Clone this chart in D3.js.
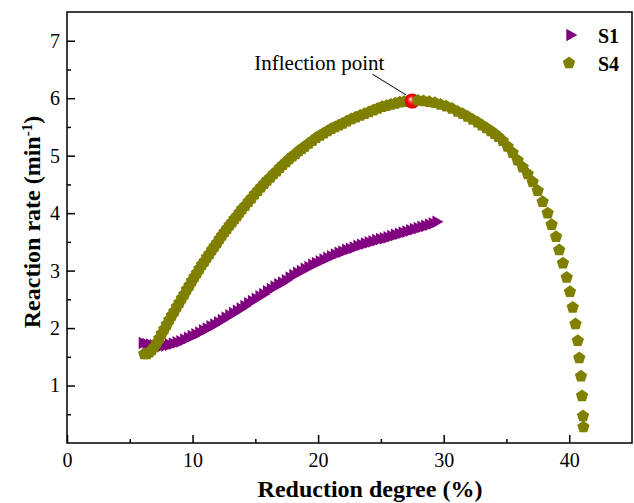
<!DOCTYPE html>
<html>
<head>
<meta charset="utf-8">
<script src="https://cdn.jsdelivr.net/npm/d3@7"></script>
<style>
  body { margin: 0; background: #fff; }
  text { font-family: "Liberation Serif", "Times New Roman", serif; fill: #000; }
  .tick text { font-size: 20px; }
  .title { font-size: 24px; font-weight: bold; }
  .legend { font-size: 20px; font-weight: bold; }
</style>
</head>
<body>
<div class="viz"></div>
<script>
// S1 (right triangles)
const s1X = [6.0, 6.3, 6.6, 6.9, 7.2, 7.5, 7.8, 8.1, 8.4, 8.7, 9.0, 9.3, 9.6, 9.9, 10.2, 10.5, 10.8, 11.1, 11.4, 11.7,
  12.0, 12.3, 12.6, 12.9, 13.2, 13.5, 13.8, 14.1, 14.4, 14.7, 15.0, 15.3, 15.6, 15.9, 16.2, 16.5, 16.8, 17.1, 17.4, 17.7,
  18.0, 18.3, 18.6, 18.9, 19.2, 19.5, 19.8, 20.1, 20.4, 20.7, 21.0, 21.3, 21.6, 21.9, 22.2, 22.5, 22.8, 23.1, 23.4, 23.7,
  24.0, 24.3, 24.6, 24.9, 25.2, 25.5, 25.8, 26.1, 26.4, 26.7, 27.0, 27.3, 27.6, 27.9, 28.2, 28.5, 28.8, 29.1, 29.4]
const s1Y = [1.74, 1.72, 1.71, 1.70, 1.69, 1.69, 1.70, 1.71, 1.73, 1.75, 1.77, 1.80, 1.83, 1.86, 1.89, 1.92, 1.96, 1.99, 2.03, 2.06,
  2.10, 2.14, 2.18, 2.22, 2.26, 2.30, 2.34, 2.38, 2.43, 2.47, 2.51, 2.55, 2.59, 2.64, 2.68, 2.72, 2.76, 2.79, 2.83, 2.88,
  2.92, 2.96, 2.99, 3.03, 3.06, 3.10, 3.13, 3.16, 3.19, 3.22, 3.25, 3.28, 3.31, 3.33, 3.36, 3.38, 3.40, 3.43, 3.45, 3.47,
  3.49, 3.51, 3.53, 3.55, 3.56, 3.58, 3.60, 3.62, 3.64, 3.66, 3.68, 3.70, 3.72, 3.74, 3.76, 3.78, 3.80, 3.82, 3.85]

// S4 (pentagons)
const s4X = [6.15, 6.35, 6.55, 6.75, 6.95, 7.15, 7.35, 7.55, 7.75, 7.95, 8.15, 8.35, 8.55, 8.75, 8.95, 9.15, 9.35, 9.55, 9.75, 9.95,
  10.15, 10.35, 10.55, 10.75, 10.95, 11.15, 11.35, 11.55, 11.75, 11.95, 12.15, 12.35, 12.55, 12.75, 12.95, 13.15, 13.35, 13.55, 13.75, 13.95,
  14.2, 14.45, 14.7, 14.95, 15.2, 15.45, 15.7, 15.95, 16.2, 16.45, 16.7, 16.95, 17.2, 17.45, 17.7, 17.95, 18.2, 18.45, 18.7, 18.95,
  19.25, 19.55, 19.85, 20.15, 20.45, 20.75, 21.05, 21.35, 21.65, 21.95, 22.3, 22.65, 23.0, 23.35, 23.7, 24.05, 24.4, 24.75, 25.1, 25.45,
  25.8, 26.15, 26.5, 26.85, 27.2, 27.55, 27.95, 28.4, 28.85, 29.3, 29.75, 30.2, 30.65, 31.1, 31.5, 31.9, 32.3, 32.7, 33.05, 33.4,
  33.75, 34.05, 34.35, 34.7, 35.09, 35.49, 35.89, 36.29, 36.69, 37.09, 37.49, 37.88, 38.28, 38.6, 38.95, 39.2, 39.5, 39.8, 40.06, 40.28,
  40.5, 40.68, 40.8, 40.94, 41.02, 41.1, 41.13]
const s4Y = [1.55, 1.55, 1.58, 1.62, 1.67, 1.74, 1.82, 1.90, 1.98, 2.06, 2.14, 2.22, 2.29, 2.37, 2.44, 2.52, 2.59, 2.67, 2.74, 2.82,
  2.89, 2.96, 3.03, 3.10, 3.16, 3.23, 3.29, 3.36, 3.42, 3.48, 3.55, 3.61, 3.67, 3.73, 3.79, 3.84, 3.90, 3.95, 4.01, 4.07,
  4.13, 4.20, 4.26, 4.33, 4.39, 4.45, 4.51, 4.57, 4.62, 4.68, 4.73, 4.79, 4.84, 4.89, 4.94, 4.99, 5.03, 5.08, 5.12, 5.16,
  5.21, 5.26, 5.31, 5.35, 5.39, 5.43, 5.47, 5.50, 5.53, 5.56, 5.60, 5.64, 5.67, 5.70, 5.73, 5.76, 5.79, 5.82, 5.85, 5.87,
  5.89, 5.91, 5.93, 5.94, 5.95, 5.96, 5.96, 5.95, 5.94, 5.92, 5.89, 5.86, 5.82, 5.77, 5.73, 5.68, 5.63, 5.58, 5.53, 5.48,
  5.43, 5.38, 5.33, 5.26, 5.16, 5.05, 4.92, 4.80, 4.68, 4.54, 4.39, 4.20, 4.00, 3.80, 3.59, 3.36, 3.13, 2.88, 2.63, 2.36,
  2.07, 1.78, 1.48, 1.16, 0.82, 0.47, 0.28]

const inflection = {x: 27.5, y: 5.95, label: 'Inflection point'}

const xTicks = [0, 10, 20, 30, 40]
const xMinor = [5, 15, 25, 35]
const yTicks = [1, 2, 3, 4, 5, 6, 7]
const yMinor = [0.5, 1.5, 2.5, 3.5, 4.5, 5.5, 6.5]

const margin = {top: 12, right: 2, bottom: 60, left: 67}
const W = 634, H = 503
const width = W - margin.left - margin.right
const height = H - margin.top - margin.bottom

const svg = d3.select('.viz').append('svg')
  .attr('width', W)
  .attr('height', H)

const g = svg.append('g')
  .attr('transform', `translate(${margin.left},${margin.top})`)

const x = d3.scaleLinear().domain([0, 45]).range([0, width])
const y = d3.scaleLinear().domain([0, 7.5]).range([height, 0])

const s1 = s1X.map((d, i) => ({x: d, y: s1Y[i]}))
const s4 = s4X.map((d, i) => ({x: d, y: s4Y[i]}))

// axes, ticks pointing inward
g.append('g').attr('transform', `translate(0,${height})`)
  .call(d3.axisBottom(x).tickValues(xTicks).tickSizeInner(-8).tickSizeOuter(0).tickPadding(10).tickFormat(d3.format('d')))
g.append('g').attr('transform', `translate(0,${height})`)
  .call(d3.axisBottom(x).tickValues(xMinor).tickSizeInner(-4).tickSizeOuter(0).tickFormat(''))
g.append('g')
  .call(d3.axisLeft(y).tickValues(yTicks).tickSizeInner(-8).tickSizeOuter(0).tickPadding(7).tickFormat(d3.format('d')))
g.append('g')
  .call(d3.axisLeft(y).tickValues(yMinor).tickSizeInner(-4).tickSizeOuter(0).tickFormat(''))

g.selectAll('.domain').remove()
g.selectAll('.tick line').attr('stroke', '#000').attr('stroke-width', 1.5)
g.selectAll('.tick text').attr('font-family', null).attr('font-size', null)

// frame
g.append('rect')
  .attr('width', width)
  .attr('height', height)
  .attr('fill', 'none')
  .attr('stroke', '#000')
  .attr('stroke-width', 1.5)

// markers
const tri = d3.symbol().type(d3.symbolTriangle).size(70)
const pentagon = (r) => {
  const pts = d3.range(5).map(k => {
    const a = -Math.PI / 2 + k * 2 * Math.PI / 5
    return [r * Math.cos(a), r * Math.sin(a)]
  })
  return 'M' + pts.join('L') + 'Z'
}

g.append('g').selectAll('path')
  .data(s1)
  .join('path')
  .attr('d', tri)
  .attr('fill', '#800080')
  .attr('transform', d => `translate(${x(d.x)},${y(d.y)}) rotate(90)`)

const peakIdx = s4X.indexOf(27.55)

g.append('g').selectAll('path')
  .data(s4.slice(0, peakIdx + 1))
  .join('path')
  .attr('d', pentagon(6.5))
  .attr('fill', '#808000')
  .attr('transform', d => `translate(${x(d.x)},${y(d.y)})`)

// inflection ball
const grad = svg.append('defs').append('radialGradient')
  .attr('id', 'ball')
  .attr('cx', '0.5').attr('cy', '0.5').attr('r', '0.5')
  .attr('fx', '0.38').attr('fy', '0.35')
grad.append('stop').attr('offset', '0%').attr('stop-color', '#ffffff')
grad.append('stop').attr('offset', '25%').attr('stop-color', '#ff6060')
grad.append('stop').attr('offset', '60%').attr('stop-color', '#ff0000')
grad.append('stop').attr('offset', '100%').attr('stop-color', '#d00000')

const px = x(inflection.x), py = y(inflection.y)
g.append('circle')
  .attr('cx', px).attr('cy', py).attr('r', 7.5)
  .attr('fill', 'url(#ball)')

g.append('g').selectAll('path')
  .data(s4.slice(peakIdx + 1))
  .join('path')
  .attr('d', pentagon(6.5))
  .attr('fill', '#808000')
  .attr('transform', d => `translate(${x(d.x)},${y(d.y)})`)

g.append('line')
  .attr('x1', px - 40).attr('y1', py - 27)
  .attr('x2', px - 6).attr('y2', py - 6)
  .attr('stroke', '#000').attr('stroke-width', 1)

g.append('text')
  .attr('x', px - 158).attr('y', py - 31)
  .style('font-size', '21px')
  .text(inflection.label)

// legend
const legend = g.append('g').attr('transform', `translate(${width - 62},23)`)
legend.append('path').attr('d', tri).attr('fill', '#800080').attr('transform', 'rotate(90)')
legend.append('text').attr('class', 'legend').attr('x', 28).attr('y', 8).text('S1')
legend.append('path').attr('d', pentagon(6.5)).attr('fill', '#808000').attr('transform', 'translate(-1,28)')
legend.append('text').attr('class', 'legend').attr('x', 28).attr('y', 36).text('S4')

// axis titles
svg.append('text')
  .attr('class', 'title')
  .attr('x', 370)
  .attr('y', 497)
  .attr('text-anchor', 'middle')
  .text('Reduction degree (%)')

const yt = svg.append('text')
  .attr('class', 'title')
  .attr('transform', 'translate(40,222) rotate(-90)')
  .attr('text-anchor', 'middle')
yt.append('tspan').text('Reaction rate (min')
yt.append('tspan').attr('baseline-shift', 'super').style('font-size', '15px').text('-1')
yt.append('tspan').text(')')
</script>
</body>
</html>
